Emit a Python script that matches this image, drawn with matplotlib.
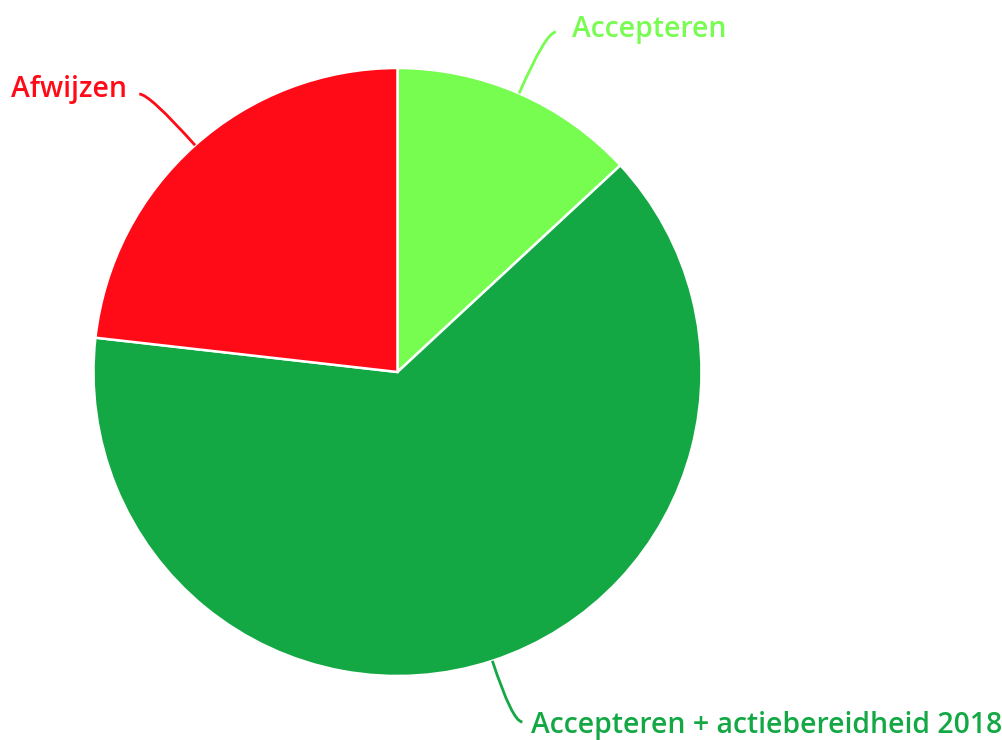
import numpy as np
import matplotlib
matplotlib.use("Agg")
import matplotlib.pyplot as plt
from matplotlib.path import Path
from matplotlib.patches import PathPatch

categories = ["Accepteren", "Accepteren + actiebereidheid 2018", "Afwijzen"]
values = [13.1, 63.7, 23.2]
colors = ["#77FC50", "#14A845", "#FF0A17"]

W, H = 1003, 740
fig = plt.figure(figsize=(W / 100, H / 100), dpi=100)
ax = fig.add_axes([0, 0, 1, 1])

cx, cy, R = 397.5, H - 372, 304
wedges, _ = ax.pie(values, colors=colors, startangle=90, counterclock=False,
                   center=(cx, cy), radius=R, frame=True,
                   wedgeprops=dict(edgecolor="white", linewidth=1.8))
ax.set_xlim(0, W)
ax.set_ylim(0, H)
ax.set_aspect("equal")
ax.axis("off")

# label layout: (elbow y in image px, end direction, text x, text y)
label_layout = [
    dict(ey=32, side=1, tx=572, ty=30),
    dict(ey=722, side=1, tx=531, ty=726),
    dict(ey=94, side=-1, tx=11, ty=89),
]

for w, lab, col, lay in zip(wedges, categories, colors, label_layout):
    mid = np.deg2rad((w.theta1 + w.theta2) / 2)
    dx, dy = np.cos(mid), np.sin(mid)
    p0 = (cx + R * dx, cy + R * dy)
    ey = H - lay["ey"]
    t = (ey - p0[1]) / dy
    p1 = (p0[0] + t * dx, ey)
    p2 = (p1[0] + lay["side"] * 10, ey)
    path = Path([p0, p1, p2], [Path.MOVETO, Path.CURVE3, Path.CURVE3])
    ax.add_patch(PathPatch(path, fill=False, edgecolor=col, linewidth=2))
    ax.text(lay["tx"], H - lay["ty"], lab, color=col, fontsize=20.4,
            family="Open Sans", fontweight="semibold",
            ha="left", va="center")

fig.savefig("out.png", dpi=100, facecolor="white")
